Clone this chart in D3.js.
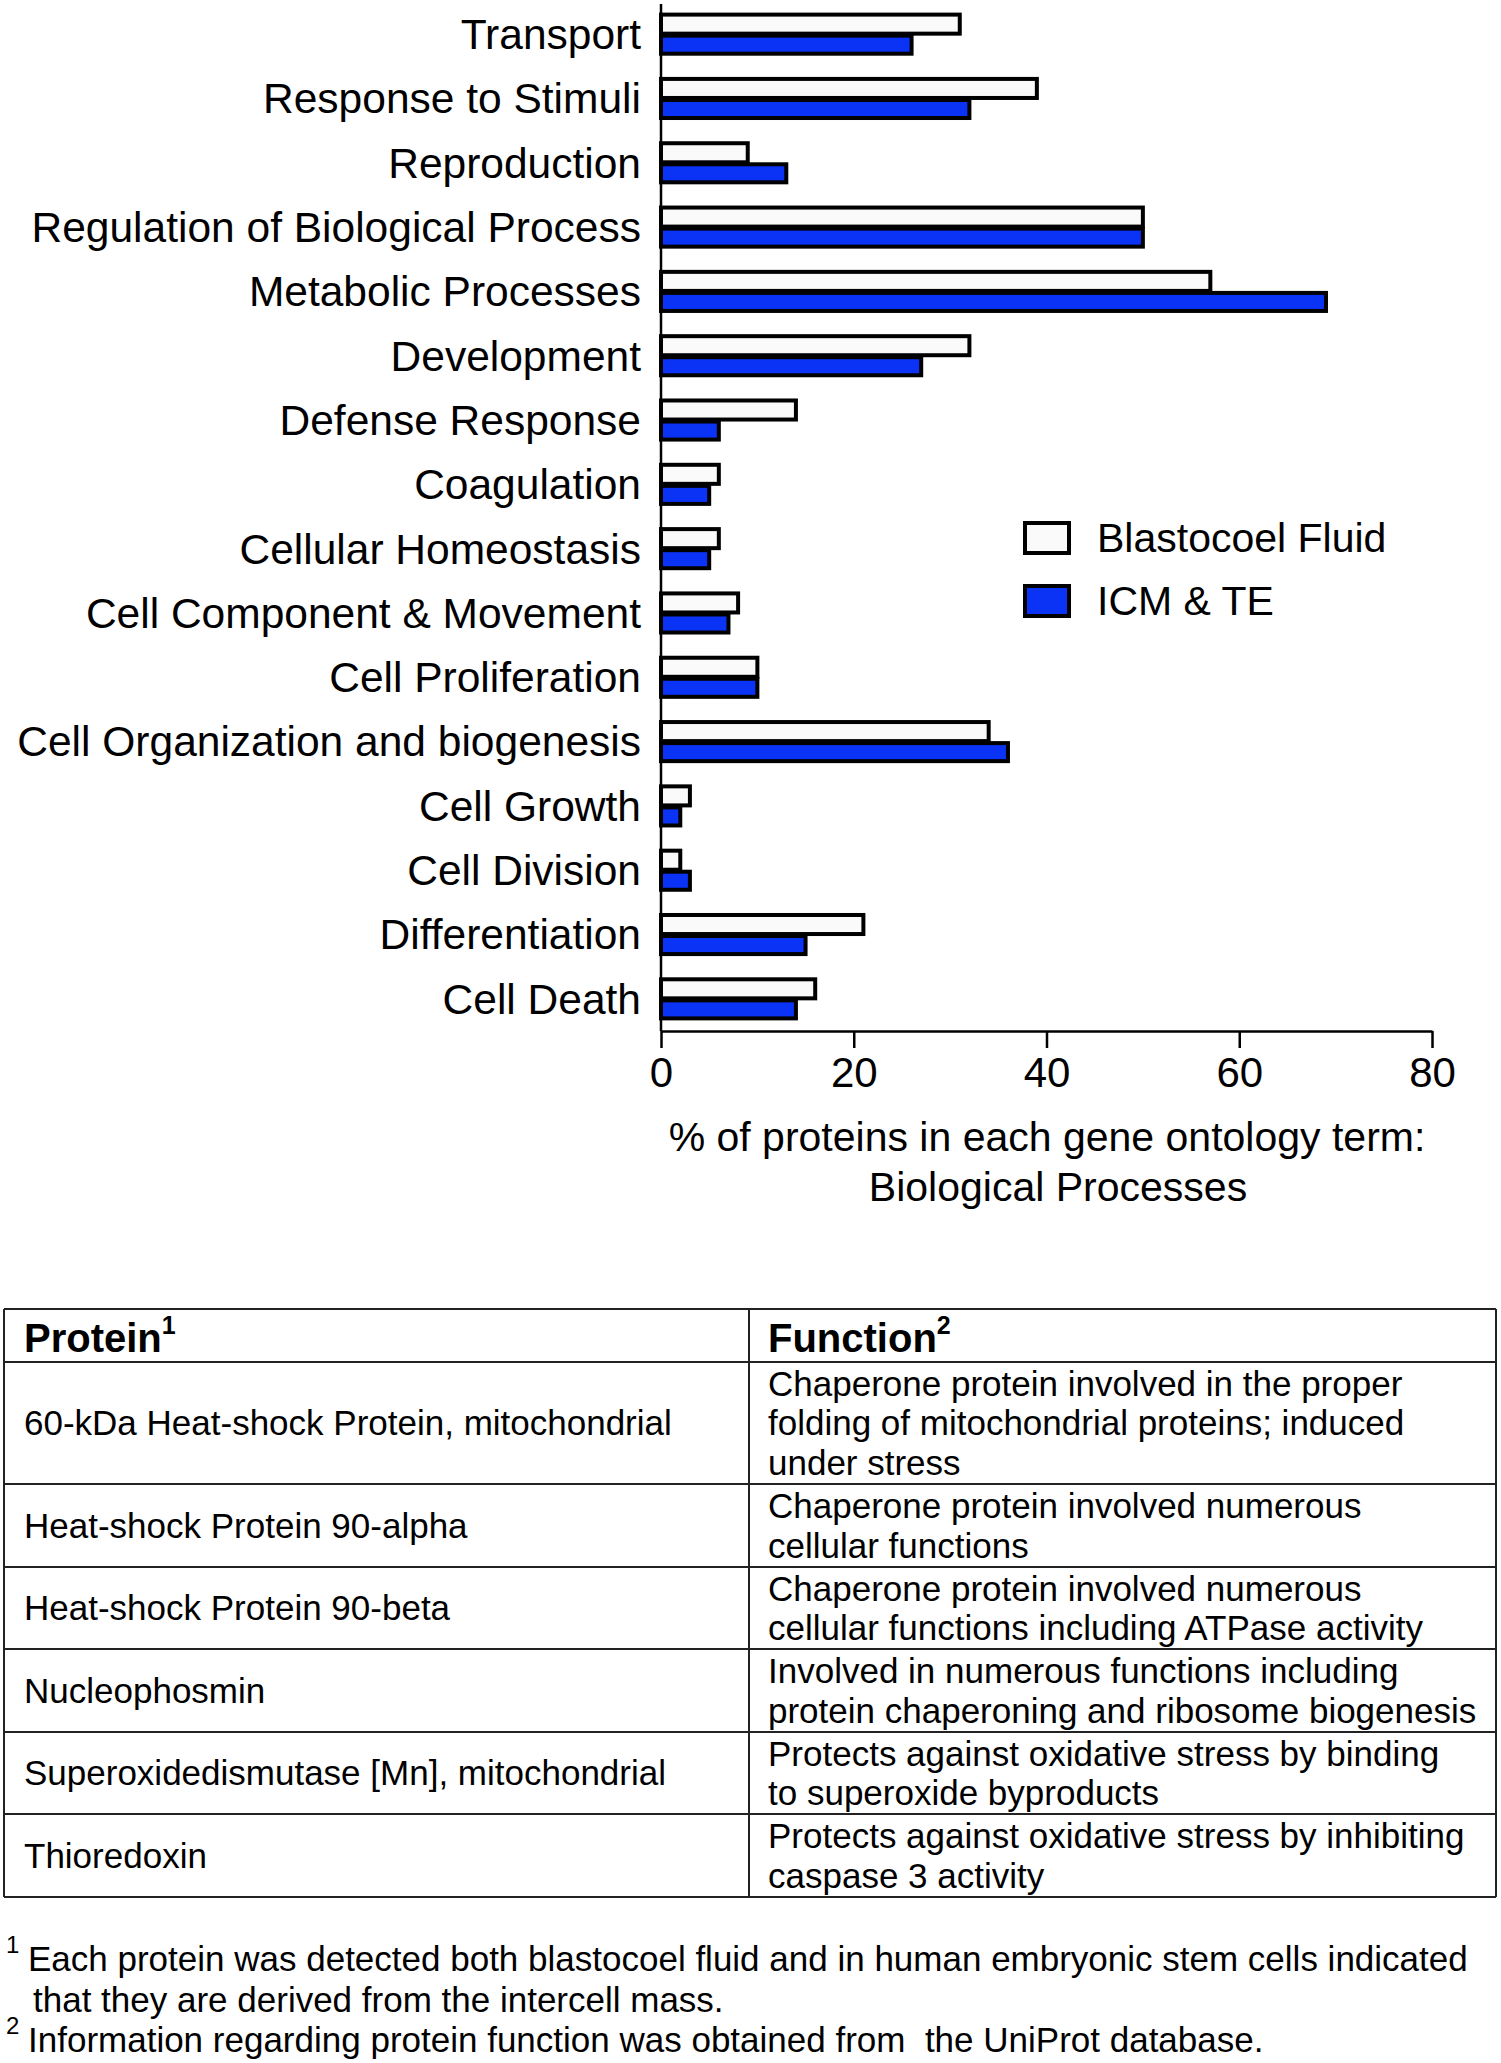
<!DOCTYPE html>
<html>
<head>
<meta charset="utf-8">
<script src="https://cdn.jsdelivr.net/npm/d3@7"></script>
<style>
    body { margin: 0; background: #ffffff; }
    svg { display: block; font-family: "Liberation Sans", Arial, sans-serif; }
</style>
</head>
<body>
<svg></svg>
<script>
const width = 1501;
const height = 2063;

const categories = [
    "Transport",
    "Response to Stimuli",
    "Reproduction",
    "Regulation of Biological Process",
    "Metabolic Processes",
    "Development",
    "Defense Response",
    "Coagulation",
    "Cellular Homeostasis",
    "Cell Component & Movement",
    "Cell Proliferation",
    "Cell Organization and biogenesis",
    "Cell Growth",
    "Cell Division",
    "Differentiation",
    "Cell Death"
];
const blastocoelValues = [31, 39, 9, 50, 57, 32, 14, 6, 6, 8, 10, 34, 3, 2, 21, 16];
const icmValues = [26, 32, 13, 50, 69, 27, 6, 5, 5, 7, 10, 36, 2, 3, 15, 14];
const seriesNames = ["Blastocoel Fluid", "ICM & TE"];
const xTicks = [0, 20, 40, 60, 80];
const axisTitle = ["% of proteins in each gene ontology term:", "Biological Processes"];

const proteins = [
    "60-kDa Heat-shock Protein, mitochondrial",
    "Heat-shock Protein 90-alpha",
    "Heat-shock Protein 90-beta",
    "Nucleophosmin",
    "Superoxidedismutase [Mn], mitochondrial",
    "Thioredoxin"
];
const functions = [
    ["Chaperone protein involved in the proper", "folding of mitochondrial proteins; induced", "under stress"],
    ["Chaperone protein involved numerous", "cellular functions"],
    ["Chaperone protein involved numerous", "cellular functions including ATPase activity"],
    ["Involved in numerous functions including", "protein chaperoning and ribosome biogenesis"],
    ["Protects against oxidative stress by binding", "to superoxide byproducts"],
    ["Protects against oxidative stress by inhibiting", "caspase 3 activity"]
];
const footnotes = [
    { mark: "1", lines: ["Each protein was detected both blastocoel fluid and in human embryonic stem cells indicated", "that they are derived from the intercell mass."] },
    { mark: "2", lines: ["Information regarding protein function was obtained from  the UniProt database."] }
];

const blue = "#0a33f6";
const white = "#fafafa";

const svg = d3.select("svg")
    .attr("width", width)
    .attr("height", height)
    .attr("viewBox", [0, 0, width, height]);

// ---- bar chart ----
const x = d3.scaleLinear()
    .domain([0, 80])
    .range([661, 1432]);

const y = d3.scaleBand()
    .domain(categories)
    .range([2, 1031])
    .paddingInner(0.33)
    .paddingOuter(0.165);

const rows = categories.map((c, i) => ({ name: c, a: blastocoelValues[i], b: icmValues[i] }));
const half = y.bandwidth() / 2;

const groups = svg.append("g")
    .selectAll("g.group")
    .data(rows)
    .join("g")
    .classed("group", true)
    .attr("transform", d => `translate(0, ${y(d.name)})`);

groups.append("rect")
    .attr("x", x(0))
    .attr("y", 2)
    .attr("width", d => x(d.a) - x(0))
    .attr("height", half - 2.5)
    .attr("fill", white)
    .attr("stroke", "#000")
    .attr("stroke-width", 4);

groups.append("rect")
    .attr("x", x(0))
    .attr("y", half + 1.5)
    .attr("width", d => x(d.b) - x(0))
    .attr("height", half - 3.5)
    .attr("fill", blue)
    .attr("stroke", "#000")
    .attr("stroke-width", 4);

groups.append("text")
    .attr("x", 641)
    .attr("y", half)
    .attr("dy", "0.35em")
    .attr("text-anchor", "end")
    .attr("font-size", 42.5)
    .attr("fill", "#000")
    .text(d => d.name);

// y axis: plain line
svg.append("line")
    .attr("x1", x(0))
    .attr("x2", x(0))
    .attr("y1", 4)
    .attr("y2", 1031)
    .attr("stroke", "#000")
    .attr("stroke-width", 2.5);

const xAxis = svg.append("g")
    .attr("transform", "translate(0, 1031)")
    .call(d3.axisBottom(x).tickValues(xTicks).tickSize(17).tickPadding(9).tickSizeOuter(0));
xAxis.select(".domain").attr("stroke", "#000").attr("stroke-width", 2.5);
xAxis.selectAll(".tick line").attr("stroke", "#000").attr("stroke-width", 2.5);
xAxis.selectAll(".tick text")
    .attr("font-size", 42)
    .attr("font-family", "Liberation Sans, Arial, sans-serif")
    .attr("fill", "#000");

svg.append("g")
    .selectAll("text")
    .data(axisTitle)
    .join("text")
    .attr("x", (d, i) => i === 0 ? 1047 : 1058)
    .attr("y", (d, i) => 1137 + i * 50)
    .attr("dy", "0.35em")
    .attr("text-anchor", "middle")
    .attr("font-size", 41)
    .text(d => d);

// legend
const legend = svg.append("g")
    .selectAll("g")
    .data(seriesNames)
    .join("g")
    .attr("transform", (d, i) => `translate(1025, ${523 + i * 63})`);
legend.append("rect")
    .attr("width", 44)
    .attr("height", 30)
    .attr("fill", (d, i) => i === 0 ? white : blue)
    .attr("stroke", "#000")
    .attr("stroke-width", 4);
legend.append("text")
    .attr("x", 72)
    .attr("y", 15)
    .attr("dy", "0.35em")
    .attr("font-size", 41)
    .text(d => d);

// ---- table ----
const tableLeft = 4;
const tableRight = 1496;
const colDivider = 749;
const rowEdges = [1309, 1362, 1484, 1567, 1649, 1732, 1814, 1897];
const lineHeight = 39.5;

const table = svg.append("g");

table.selectAll("line.h")
    .data(rowEdges)
    .join("line")
    .classed("h", true)
    .attr("x1", tableLeft)
    .attr("x2", tableRight)
    .attr("y1", d => d)
    .attr("y2", d => d)
    .attr("stroke", "#222")
    .attr("stroke-width", 2);

table.selectAll("line.v")
    .data([tableLeft, colDivider, tableRight])
    .join("line")
    .classed("v", true)
    .attr("x1", d => d)
    .attr("x2", d => d)
    .attr("y1", rowEdges[0])
    .attr("y2", rowEdges[rowEdges.length - 1])
    .attr("stroke", "#222")
    .attr("stroke-width", 2);

const headers = [["Protein", "1", 24], ["Function", "2", 768]];
headers.forEach(h => {
    const t = table.append("text")
        .attr("x", h[2])
        .attr("y", (rowEdges[0] + rowEdges[1]) / 2 + 2)
        .attr("dy", "0.35em")
        .attr("font-size", 40)
        .attr("font-weight", "bold");
    t.append("tspan").text(h[0]);
    t.append("tspan")
        .attr("font-size", 25)
        .attr("dy", "-0.7em")
        .text(h[1]);
});

proteins.forEach((p, i) => {
    const mid = (rowEdges[i + 1] + rowEdges[i + 2]) / 2;
    table.append("text")
        .attr("x", 24)
        .attr("y", mid)
        .attr("dy", "0.35em")
        .attr("font-size", 35)
        .text(p);
    const lines = functions[i];
    const start = mid - (lines.length - 1) * lineHeight / 2;
    table.append("g")
        .selectAll("text")
        .data(lines)
        .join("text")
        .attr("x", 768)
        .attr("y", (d, j) => start + j * lineHeight)
        .attr("dy", "0.35em")
        .attr("font-size", 35)
        .text(d => d);
});

// ---- footnotes ----
let lineY = 1959;
footnotes.forEach(f => {
    svg.append("text")
        .attr("x", 6)
        .attr("y", lineY - 14)
        .attr("dy", "0.35em")
        .attr("font-size", 24)
        .text(f.mark);
    f.lines.forEach((l, j) => {
        svg.append("text")
            .attr("x", j === 0 ? 28 : 33)
            .attr("y", lineY)
            .attr("dy", "0.35em")
            .attr("font-size", 35)
            .style("white-space", "pre")
            .text(l);
        lineY += 40.5;
    });
});
</script>
</body>
</html>
